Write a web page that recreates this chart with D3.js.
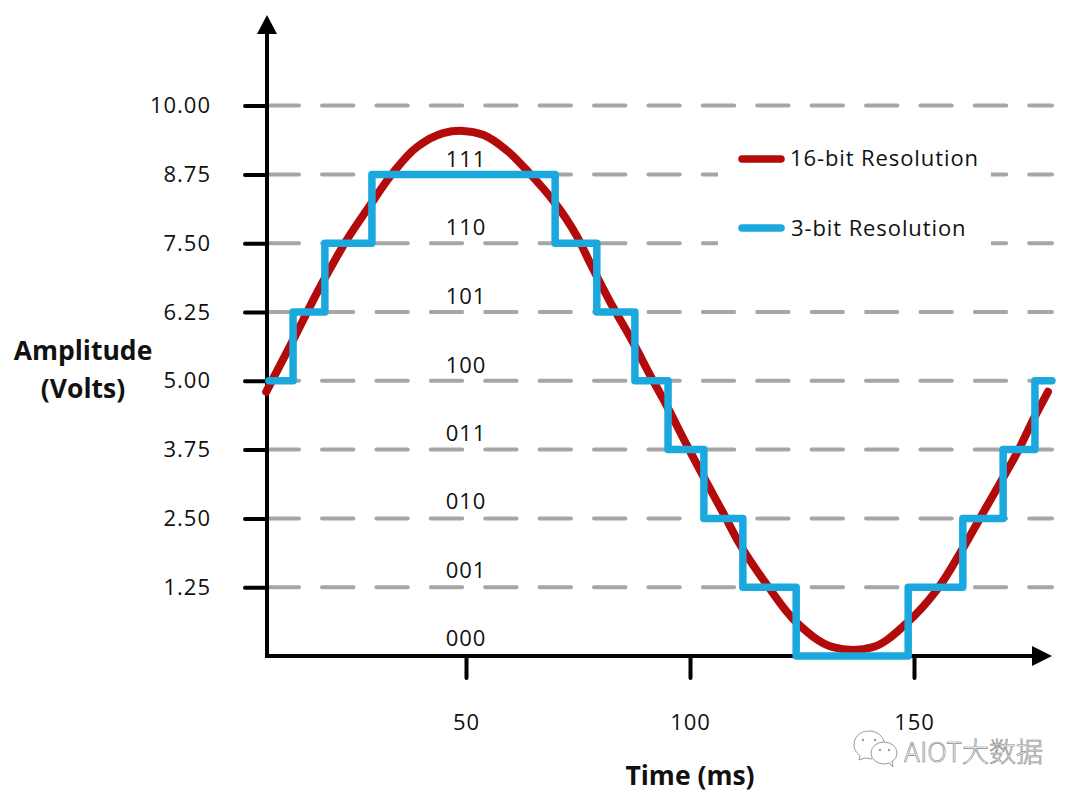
<!doctype html>
<html lang="en">
<head>
<meta charset="utf-8">
<title>Amplitude resolution</title>
<script src="https://d3js.org/d3.v7.min.js"></script>
<style>
  html, body { margin: 0; background: #fff; }
  svg { display: block; }
  text { font-family: "Open Sans", sans-serif; fill: #111; }
</style>
</head>
<body>
<svg id="chart" width="1080" height="799"></svg>
<script>
const yTicks = [1.25, 2.5, 3.75, 5, 6.25, 7.5, 8.75, 10]
const xTicks = [50, 100, 150]
const bitLabels = ['000', '001', '010', '011', '100', '101', '110', '111']
const bitLabelVolts = [0.18, 1.42, 2.67, 3.91, 5.15, 6.40, 7.64, 8.88]

// 16-bit curve
const curveTime = [5.4, 11.4, 17.4, 23.4, 28.6, 33.7, 39.1, 44.9, 49.3, 53.8, 59.2, 64.3, 69.4, 74.8, 77.7, 82.8, 86.6, 91.7, 94.0, 99.3, 102.2, 107.4, 111.2, 117.2, 123.9, 131.9, 136.4, 140.8, 148.4, 155.1, 160.3, 165.4, 169.2, 173.0, 176.6, 179.9]
const curveVolts = [4.80, 5.74, 6.70, 7.56, 8.19, 8.78, 9.25, 9.50, 9.54, 9.47, 9.18, 8.76, 8.28, 7.62, 7.14, 6.34, 5.80, 5.01, 4.67, 3.83, 3.38, 2.60, 2.02, 1.29, 0.60, 0.16, 0.11, 0.16, 0.60, 1.20, 1.87, 2.60, 3.14, 3.69, 4.29, 4.80]

// 3-bit staircase: time each level starts, then the level
const stepTime = [6, 11.4, 18.5, 29, 69.9, 79.2, 87.7, 95.1, 103.1, 111.8, 123.7, 148.7, 160.9, 169.9, 177, 180.8]
const stepVolts = [5, 6.25, 7.5, 8.75, 7.5, 6.25, 5, 3.75, 2.5, 1.25, 0, 1.25, 2.5, 3.75, 5, 5]

const legendNames = ['16-bit Resolution', '3-bit Resolution']
const legendColors = ['#b30b0b', '#1ba8de']

const svg = d3.select('#chart')
const x = d3.scaleLinear().domain([0, 50]).range([242, 466])
const y = d3.scaleLinear().domain([0, 10]).range([656, 105.6])
const axisX = 267, axisY = 656

// grid
svg.append('g').selectAll('line').data(yTicks).join('line')
    .attr('x1', 267.6).attr('x2', 1052)
    .attr('y1', d => y(d)).attr('y2', d => y(d))
    .attr('stroke', '#a6a6a6').attr('stroke-width', 4)
    .attr('stroke-linecap', 'round')
    .attr('stroke-dasharray', '31.4 23')

// legend sits on a white box that hides the grid
svg.append('rect').attr('x', 718).attr('y', 145).attr('width', 273).attr('height', 110).attr('fill', '#fff')

// axes
const yAxis = d3.axisLeft(y).tickValues(yTicks).tickFormat(d3.format('.2f')).tickSize(22).tickPadding(34)
const xAxis = d3.axisBottom(x).tickValues(xTicks).tickSize(22).tickPadding(36)

const gy = svg.append('g').attr('transform', `translate(${axisX},0)`).call(yAxis)
const gx = svg.append('g').attr('transform', `translate(0,${axisY})`).call(xAxis)
gy.select('.domain').remove()
gx.select('.domain').remove()
svg.selectAll('.tick line').attr('stroke', '#000').attr('stroke-width', 4).attr('stroke-linecap', 'round')
svg.selectAll('.tick text').attr('font-size', 22).attr('letter-spacing', 1)
    .attr('font-family', '"Open Sans", sans-serif').attr('fill', '#111')

svg.append('line').attr('x1', axisX).attr('x2', axisX).attr('y1', axisY + 2).attr('y2', 30)
    .attr('stroke', '#000').attr('stroke-width', 4)
svg.append('line').attr('x1', axisX - 2).attr('x2', 1036).attr('y1', axisY).attr('y2', axisY)
    .attr('stroke', '#000').attr('stroke-width', 4)
svg.append('path').attr('d', 'M267 15 L257 34 L277 34 Z').attr('fill', '#000')
svg.append('path').attr('d', 'M1052 656 L1032 646 L1032 666 Z').attr('fill', '#000')

// bit codes
svg.append('g').selectAll('text').data(bitLabels).join('text')
    .attr('x', 466).attr('y', (d, i) => y(bitLabelVolts[i]))
    .attr('text-anchor', 'middle').attr('font-size', 22).attr('letter-spacing', 1)
    .text(d => d)

// series
const curveLine = d3.line()
    .x(i => x(curveTime[i])).y(i => y(curveVolts[i]))
    .curve(d3.curveCatmullRom.alpha(1))
svg.append('path').attr('d', curveLine(d3.range(curveTime.length)))
    .attr('fill', 'none').attr('stroke', legendColors[0]).attr('stroke-width', 8).attr('stroke-linecap', 'round')

const stepLine = d3.line()
    .x(i => x(stepTime[i])).y(i => y(stepVolts[i]))
    .curve(d3.curveStepAfter)
svg.append('path').attr('d', stepLine(d3.range(stepTime.length)))
    .attr('fill', 'none').attr('stroke', legendColors[1]).attr('stroke-width', 7.5)
    .attr('stroke-linejoin', 'round').attr('stroke-linecap', 'round')

// legend
const legendRows = [159, 228]
const legendTextY = [166, 235.5]
const legendTextX = [790, 791]
legendNames.forEach((name, i) => {
    svg.append('line').attr('x1', 742).attr('x2', 781).attr('y1', legendRows[i]).attr('y2', legendRows[i])
        .attr('stroke', legendColors[i]).attr('stroke-width', 7.5).attr('stroke-linecap', 'round')
    svg.append('text').attr('x', legendTextX[i]).attr('y', legendTextY[i]).attr('font-size', 22)
        .attr('letter-spacing', 0.9).text(name)
})

// axis titles
const title = (txt, tx, ty) => svg.append('text').attr('x', tx).attr('y', ty)
    .attr('text-anchor', 'middle').attr('font-size', 26.5).attr('font-weight', 700).text(txt)
title('Amplitude', 83, 360)
title('(Volts)', 83, 398)
title('Time (ms)', 690, 785)

// watermark
const mark = svg.append('g').attr('fill', '#fff').attr('stroke', '#9a9a9a').attr('stroke-width', 1)
mark.append('path').attr('d', 'M869 731 C859 731 854 738 854 745 C854 750 857 753 860 756 L859 760 L865 758 L872 759')
mark.append('ellipse').attr('cx', 884).attr('cy', 753).attr('rx', 13).attr('ry', 11)
mark.append('path').attr('d', 'M869 731 C877 731 883 736 884 742').attr('fill', 'none')
mark.append('path').attr('d', 'M889 763 L893 767 L892 761').attr('stroke', '#9a9a9a')
mark.selectAll('circle').data([[863, 740], [875, 740], [880, 750], [889, 750]]).join('circle')
    .attr('cx', d => d[0]).attr('cy', d => d[1]).attr('r', 1.2).attr('fill', '#9a9a9a').attr('stroke', 'none')
svg.append('text').attr('x', 904).attr('y', 762).attr('font-size', 27)
    .style('font-family', '"Noto Sans CJK SC", sans-serif').style('font-weight', 300)
    .style('fill', '#fff').style('stroke', '#8c8c8c').style('stroke-width', 0.7)
    .text('AIOT大数据')
</script>
</body>
</html>
